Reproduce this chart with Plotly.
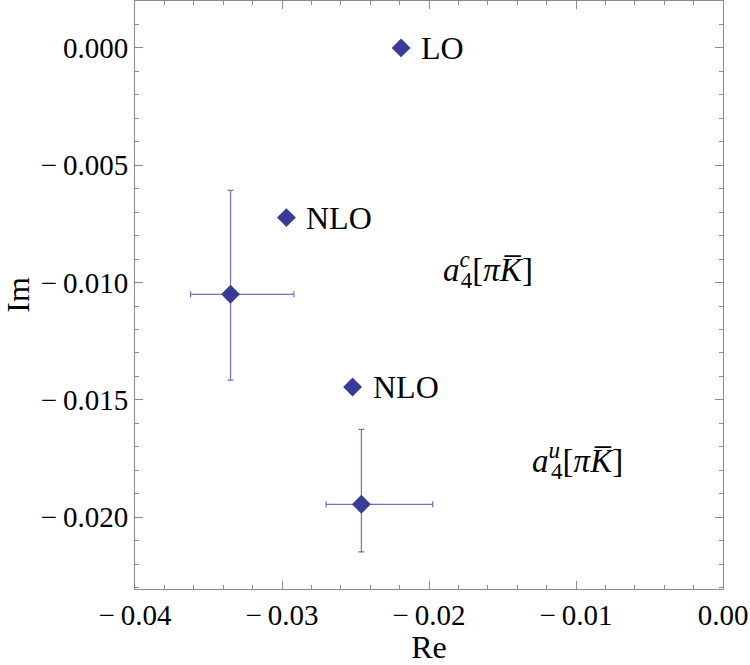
import plotly.graph_objects as go

# Central values (NLO points) and error-bar points
lo_x = [-0.0219]
lo_y = [0.0]
nlo_x = [-0.0297, -0.0252]
nlo_y = [-0.00723, -0.01445]
err_x = [-0.0335, -0.0246]
err_y = [-0.01050, -0.01945]
err_x_plus = [0.00431, 0.00485]
err_x_minus = [0.00272, 0.00240]
err_y_plus = [0.00443, 0.00319]
err_y_minus = [0.00366, 0.00203]

point_labels = ["LO", "NLO", "NLO"]
label_x = lo_x + nlo_x
label_y = lo_y + nlo_y

group_label_x = [-0.01916, -0.01311]
group_label_y = [-0.00945, -0.01757]
group_sups = ["c", "u"]

x_range = [-0.04, 0.0]
y_range = [-0.02306, 0.0020]
x_ticks = [-0.04, -0.03, -0.02, -0.01, 0.0]
x_ticktext = ["\u2212\u20090.04", "\u2212\u20090.03", "\u2212\u20090.02", "\u2212\u20090.01", "0.00"]
y_ticks = [0.0, -0.005, -0.010, -0.015, -0.020]
y_ticktext = ["0.000", "\u2212\u20090.005", "\u2212\u20090.010", "\u2212\u20090.015", "\u2212\u20090.020"]

MARK = "rgb(58,58,152)"
ERR = "rgb(112,112,192)"
FONT = "Liberation Serif"

fig = go.Figure()
fig.add_trace(go.Scatter(
    x=err_x, y=err_y, mode="markers",
    marker=dict(symbol="diamond", size=14.5, color=MARK, line=dict(width=0)),
    error_x=dict(type="data", array=err_x_plus, arrayminus=err_x_minus,
                 color=ERR, thickness=1.2, width=3),
    error_y=dict(type="data", array=err_y_plus, arrayminus=err_y_minus,
                 color=ERR, thickness=1.2, width=3),
    showlegend=False))
fig.add_trace(go.Scatter(
    x=lo_x + nlo_x, y=lo_y + nlo_y, mode="markers",
    marker=dict(symbol="diamond", size=14.5, color=MARK, line=dict(width=0)),
    showlegend=False))

for lx, ly, t in zip(label_x, label_y, point_labels):
    fig.add_annotation(x=lx, y=ly, text=t, showarrow=False, xanchor="left",
                       yanchor="middle", xshift=18,
                       font=dict(family=FONT, size=32, color="black"))

for gx, gy, s in zip(group_label_x, group_label_y, group_sups):
    fig.add_annotation(
        x=gx, y=gy, showarrow=False, xanchor="left", yanchor="middle",
        text=("<i>a</i><sup><span style='letter-spacing:-9px'><i>" + s +
              "</i></span></sup><sub>4</sub>[<i>\u03c0</i><i>K\u0305</i>]"),
        font=dict(family=FONT, size=33, color="black"))

axis_common = dict(
    showgrid=False, zeroline=False, showline=True, linecolor="#8a8a8a",
    linewidth=1, mirror="allticks", ticks="inside", ticklen=8,
    tickcolor="#8a8a8a", tickwidth=1,
    tickfont=dict(family=FONT, size=29, color="black"),
)

fig.update_xaxes(range=x_range, tickvals=x_ticks, ticktext=x_ticktext,
                 minor=dict(dtick=0.002, ticks="inside", ticklen=4,
                            tickcolor="#8a8a8a", showgrid=False),
                 title=dict(text="Re", font=dict(family=FONT, size=32, color="black"),
                            standoff=0),
                 **axis_common)
fig.update_yaxes(range=y_range, tickvals=y_ticks, ticktext=y_ticktext,
                 minor=dict(dtick=0.001, ticks="inside", ticklen=4,
                            tickcolor="#8a8a8a", showgrid=False, tick0=0),
                 title=dict(text="Im", font=dict(family=FONT, size=32, color="black"),
                            standoff=16),
                 **axis_common)

fig.update_layout(
    width=750, height=665,
    margin=dict(l=135, r=27, t=1, b=76, autoexpand=False),
    paper_bgcolor="white", plot_bgcolor="white",
)

fig.write_html("out.html")
